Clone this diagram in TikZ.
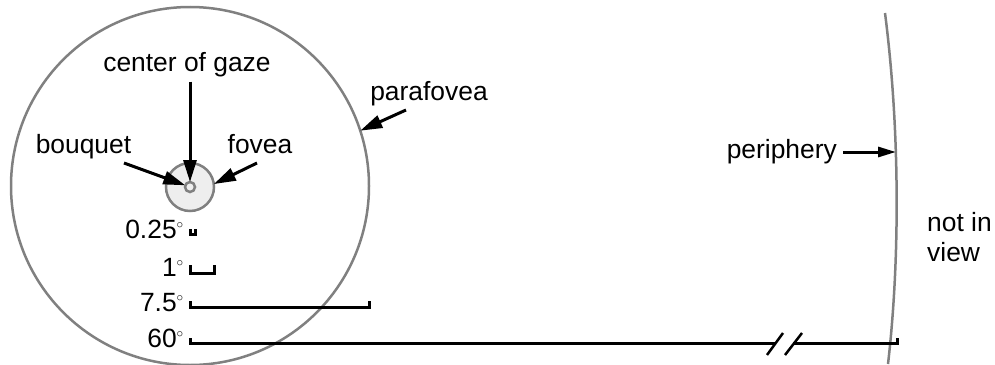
\documentclass[tikz,border=0pt]{standalone}
\usepackage{fix-cm}
\usepackage{fontspec}
\setmainfont{Liberation Sans}
\usetikzlibrary{arrows.meta}
\definecolor{rimGray}{HTML}{808080}
\definecolor{foveaFill}{HTML}{EEEEEE}
\newcommand{\dg}{$^{\scriptscriptstyle\circ}$}

\begin{document}
\begin{tikzpicture}[x=1pt, y=-1pt,
    lbl/.style={inner sep=0pt, font=\fontsize{26.4}{30}\selectfont},
    pointer/.style={-{Triangle[length=22pt,width=13pt]}, line width=3pt},
    ring/.style={draw=rimGray, line width=2.5pt, circle, inner sep=0pt, outer sep=0pt},
    span/.style={line width=3pt}]
    \useasboundingbox (0,0) rectangle (995,364);
    % field of view
    \node[ring, minimum size=358pt] (para) at (190,186) {};
    \node[ring, fill=foveaFill, minimum size=48pt] (fov) at (190,187) {};
    \node[ring, minimum size=10pt] (bq) at (190,187) {};
    \draw[rimGray, line width=2.5pt] (885,13) .. controls (900,130) and (900,260) .. (888,364);
    \coordinate (rim) at (896,152);

    % labels and pointers
    \node[lbl, anchor=base] (gaze) at (187,71) {center of gaze};
    \node[lbl, anchor=base] (bouquet) at (83.5,153) {bouquet};
    \node[lbl, anchor=base] (fovea) at (260,153) {fovea};
    \node[lbl, anchor=base] (parafovea) at (429,100) {parafovea};
    \node[lbl, anchor=base east] (periphery) at (837,158) {periphery};
    \node[lbl, anchor=north west, align=left] (outside) at (927,212) {not in\\view};
    \coordinate (bqtail) at (124,163);
    \coordinate (fovtail) at (257,163);
    \coordinate (paratail) at (406,110);
    \draw[pointer] ([yshift=-5pt]gaze.south -| bq.north) -- (bq.north);
    \draw[pointer] (bqtail) -- (bq.160);
    \draw[pointer] (fovtail) -- (fov.7);
    \draw[pointer] (paratail) -- (para.18);
    \draw[pointer, -{Triangle[length=18pt,width=10pt]}] ([xshift=6pt]periphery.east |- rim) -- (rim);

    % angular extents
    \node[lbl, anchor=base east] (d1) at (184,238) {0.25\dg};
    \node[lbl, anchor=base east] (d2) at (184,276) {1\dg};
    \node[lbl, anchor=base east] (d3) at (184,311) {7.5\dg};
    \node[lbl, anchor=base east] (d4) at (184,347) {60\dg};
    \foreach \w/\h/\y in {5/5/234, 24/8/273, 179/6/307}
        \draw[span] (190,\y-\h) -- (190,\y) -- (190+\w,\y) -- (190+\w,\y-\h);
    \draw[span] (190,338) -- (190,343) -- (775,343);
    \draw[span] (793,343) -- (897,343) -- (897,338);
    \draw[line width=2.5pt] (767,355) -- (783,333);
    \draw[line width=2.5pt] (785,355) -- (802,333);
\end{tikzpicture}
\end{document}
